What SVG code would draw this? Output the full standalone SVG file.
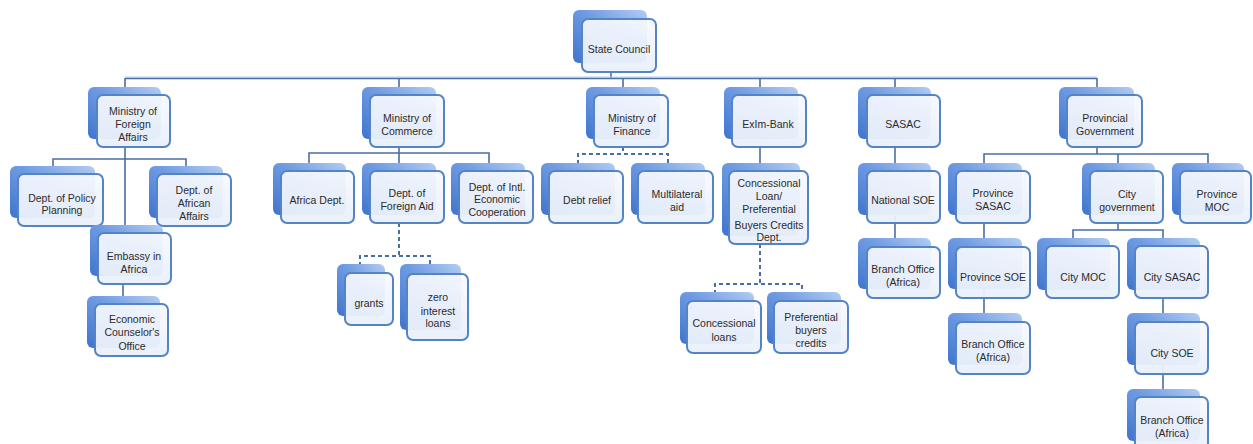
<svg xmlns="http://www.w3.org/2000/svg" width="1253" height="444" viewBox="0 0 1253 444">
<defs>
<linearGradient id="bk" x1="0" y1="1" x2="1" y2="0">
<stop offset="0" stop-color="#3f74cf"/>
<stop offset="0.55" stop-color="#6f9be2"/>
<stop offset="1" stop-color="#b3cdf2"/>
</linearGradient>
<linearGradient id="fr" x1="0" y1="0" x2="0" y2="1">
<stop offset="0" stop-color="#f7f9fe" stop-opacity="0.92"/>
<stop offset="1" stop-color="#e9f0fa" stop-opacity="0.95"/>
</linearGradient>
<style>
.b{fill:url(#bk)}
.f{fill:url(#fr);stroke:#5584c6;stroke-width:2}
text{font-family:"Liberation Sans",Arial,sans-serif;font-size:10.5px;fill:#2b2b2b;text-anchor:middle}
.c{fill:none;stroke:#4a6fa5;stroke-width:1.6}
.d{fill:none;stroke:#4a6fa5;stroke-width:2;stroke-dasharray:4 3}
</style>
</defs>
<rect width="1253" height="444" fill="#ffffff"/>
<g id="connectors">
<path class="c" d="M611 72V78"/>
<path d="M125 77H1097" stroke="#b9cce6" stroke-width="1" fill="none"/>
<path class="c" d="M125 78.5H1097" stroke-width="2"/>
<path class="c" d="M125 78V95M399 78V95M623 78V95M760 78V95M895 78V95M1097 78V95"/>
<path class="c" d="M125 147V233M53 174V159H186V174M123 284V304"/>
<path class="c" d="M399 147V171M309 171V153H489V171"/>
<path class="d" d="M399 223V256M360 273V256H430V274"/>
<path class="d" d="M623 147V154M578 171V154H668V171"/>
<path class="c" d="M760 147V171"/>
<path class="d" d="M760 244V284M715 301V284H802V301"/>
<path class="c" d="M895 147V247"/>
<path class="c" d="M1097 147V154M984 171V154H1208V171M1118 154V171"/>
<path class="c" d="M984 223V322"/>
<path class="c" d="M1118 223V230M1073 246V230H1163V246"/>
<path class="c" d="M1163 298V397"/>
</g>
<g id="state-council"><rect class="b" x="573" y="10" width="74" height="53" rx="6"/><rect class="f" x="582" y="19" width="74" height="53" rx="6"/><text x="619" y="53">State Council</text></g>
<g id="mfa"><rect class="b" x="88" y="87" width="73" height="52" rx="6"/><rect class="f" x="97" y="95" width="73" height="52" rx="6"/><text x="133" y="115">Ministry of</text><text x="133" y="128">Foreign</text><text x="133" y="141">Affairs</text></g>
<g id="moc"><rect class="b" x="362" y="87" width="74" height="52" rx="6"/><rect class="f" x="370" y="95" width="74" height="52" rx="6"/><text x="407" y="122">Ministry of</text><text x="407" y="135">Commerce</text></g>
<g id="mof"><rect class="b" x="586" y="87" width="74" height="52" rx="6"/><rect class="f" x="594" y="95" width="74" height="52" rx="6"/><text x="632" y="122">Ministry of</text><text x="632" y="135">Finance</text></g>
<g id="exim"><rect class="b" x="724" y="87" width="74" height="52" rx="6"/><rect class="f" x="732" y="95" width="74" height="52" rx="6"/><text x="768" y="128">ExIm-Bank</text></g>
<g id="sasac"><rect class="b" x="858" y="87" width="73" height="52" rx="6"/><rect class="f" x="867" y="95" width="73" height="52" rx="6"/><text x="903" y="128">SASAC</text></g>
<g id="prov-gov"><rect class="b" x="1059" y="87" width="75" height="52" rx="6"/><rect class="f" x="1067" y="95" width="75" height="52" rx="6"/><text x="1105" y="122">Provincial</text><text x="1105" y="135">Government</text></g>
<g id="policy-planning"><rect class="b" x="10" y="166" width="85" height="52" rx="6"/><rect class="f" x="18" y="174" width="85" height="52" rx="6"/><text x="62" y="202">Dept. of Policy</text><text x="62" y="214">Planning</text></g>
<g id="african-affairs"><rect class="b" x="149" y="166" width="74" height="52" rx="6"/><rect class="f" x="157" y="174" width="74" height="52" rx="6"/><text x="194" y="194">Dept. of</text><text x="194" y="207">African</text><text x="194" y="220">Affairs</text></g>
<g id="embassy"><rect class="b" x="90" y="225" width="73" height="51" rx="6"/><rect class="f" x="98" y="233" width="73" height="51" rx="6"/><text x="134" y="260">Embassy in</text><text x="134" y="273">Africa</text></g>
<g id="economic-counselor"><rect class="b" x="87" y="296" width="73" height="52" rx="6"/><rect class="f" x="95" y="304" width="73" height="52" rx="6"/><text x="132" y="323">Economic</text><text x="132" y="336">Counselor's</text><text x="132" y="350">Office</text></g>
<g id="africa-dept"><rect class="b" x="273" y="163" width="73" height="52" rx="6"/><rect class="f" x="281" y="171" width="73" height="52" rx="6"/><text x="317" y="204">Africa Dept.</text></g>
<g id="foreign-aid"><rect class="b" x="362" y="163" width="74" height="52" rx="6"/><rect class="f" x="370" y="171" width="74" height="52" rx="6"/><text x="407" y="197">Dept. of</text><text x="407" y="210">Foreign Aid</text></g>
<g id="intl-econ"><rect class="b" x="451" y="163" width="74" height="52" rx="6"/><rect class="f" x="459" y="171" width="74" height="52" rx="6"/><text x="497" y="191">Dept. of Intl.</text><text x="497" y="203">Economic</text><text x="497" y="216">Cooperation</text></g>
<g id="grants"><rect class="b" x="337" y="264" width="48" height="52" rx="6"/><rect class="f" x="345" y="273" width="48" height="52" rx="6"/><text x="369" y="307">grants</text></g>
<g id="zero-interest"><rect class="b" x="400" y="264" width="61" height="66" rx="6"/><rect class="f" x="407" y="274" width="61" height="66" rx="6"/><text x="438" y="301">zero</text><text x="438" y="315">interest</text><text x="438" y="327">loans</text></g>
<g id="debt-relief"><rect class="b" x="541" y="163" width="74" height="52" rx="6"/><rect class="f" x="549" y="171" width="74" height="52" rx="6"/><text x="587" y="204">Debt relief</text></g>
<g id="multilateral"><rect class="b" x="631" y="163" width="74" height="52" rx="6"/><rect class="f" x="638" y="171" width="75" height="52" rx="6"/><text x="677" y="198">Multilateral</text><text x="677" y="211">aid</text></g>
<g id="concessional-dept"><rect class="b" x="722" y="163" width="78" height="73" rx="6"/><rect class="f" x="729" y="171" width="79" height="73" rx="6"/><text x="769" y="187">Concessional</text><text x="769" y="200">Loan/</text><text x="769" y="213">Preferential</text><text x="769" y="229">Buyers Credits</text><text x="769" y="241">Dept.</text></g>
<g id="concessional-loans"><rect class="b" x="680" y="292" width="74" height="52" rx="6"/><rect class="f" x="687" y="301" width="74" height="52" rx="6"/><text x="724" y="327">Concessional</text><text x="724" y="341">loans</text></g>
<g id="preferential-credits"><rect class="b" x="767" y="292" width="74" height="52" rx="6"/><rect class="f" x="774" y="301" width="74" height="52" rx="6"/><text x="811" y="321">Preferential</text><text x="811" y="334">buyers</text><text x="811" y="347">credits</text></g>
<g id="national-soe"><rect class="b" x="858" y="163" width="73" height="52" rx="6"/><rect class="f" x="867" y="171" width="73" height="52" rx="6"/><text x="903" y="204">National SOE</text></g>
<g id="branch-sasac"><rect class="b" x="858" y="238" width="73" height="51" rx="6"/><rect class="f" x="867" y="247" width="73" height="51" rx="6"/><text x="903" y="273">Branch Office</text><text x="903" y="286">(Africa)</text></g>
<g id="province-sasac"><rect class="b" x="948" y="163" width="74" height="52" rx="6"/><rect class="f" x="956" y="171" width="74" height="52" rx="6"/><text x="993" y="197">Province</text><text x="993" y="210">SASAC</text></g>
<g id="province-soe"><rect class="b" x="948" y="238" width="74" height="51" rx="6"/><rect class="f" x="956" y="247" width="74" height="51" rx="6"/><text x="993" y="281">Province SOE</text></g>
<g id="branch-province"><rect class="b" x="948" y="313" width="74" height="52" rx="6"/><rect class="f" x="956" y="322" width="74" height="52" rx="6"/><text x="993" y="348">Branch Office</text><text x="993" y="361">(Africa)</text></g>
<g id="city-gov"><rect class="b" x="1082" y="163" width="73" height="52" rx="6"/><rect class="f" x="1090" y="171" width="73" height="52" rx="6"/><text x="1127" y="198">City</text><text x="1127" y="211">government</text></g>
<g id="province-moc"><rect class="b" x="1172" y="163" width="72" height="52" rx="6"/><rect class="f" x="1180" y="171" width="71" height="52" rx="6"/><text x="1217" y="198">Province</text><text x="1217" y="211">MOC</text></g>
<g id="city-moc"><rect class="b" x="1037" y="238" width="73" height="52" rx="6"/><rect class="f" x="1046" y="246" width="73" height="52" rx="6"/><text x="1083" y="281">City MOC</text></g>
<g id="city-sasac"><rect class="b" x="1127" y="238" width="73" height="52" rx="6"/><rect class="f" x="1135" y="246" width="73" height="52" rx="6"/><text x="1172" y="281">City SASAC</text></g>
<g id="city-soe"><rect class="b" x="1127" y="313" width="73" height="52" rx="6"/><rect class="f" x="1135" y="322" width="73" height="52" rx="6"/><text x="1172" y="357">City SOE</text></g>
<g id="branch-city"><rect class="b" x="1127" y="389" width="73" height="52" rx="6"/><rect class="f" x="1135" y="397" width="73" height="52" rx="6"/><text x="1172" y="424">Branch Office</text><text x="1172" y="437">(Africa)</text></g>
</svg>
